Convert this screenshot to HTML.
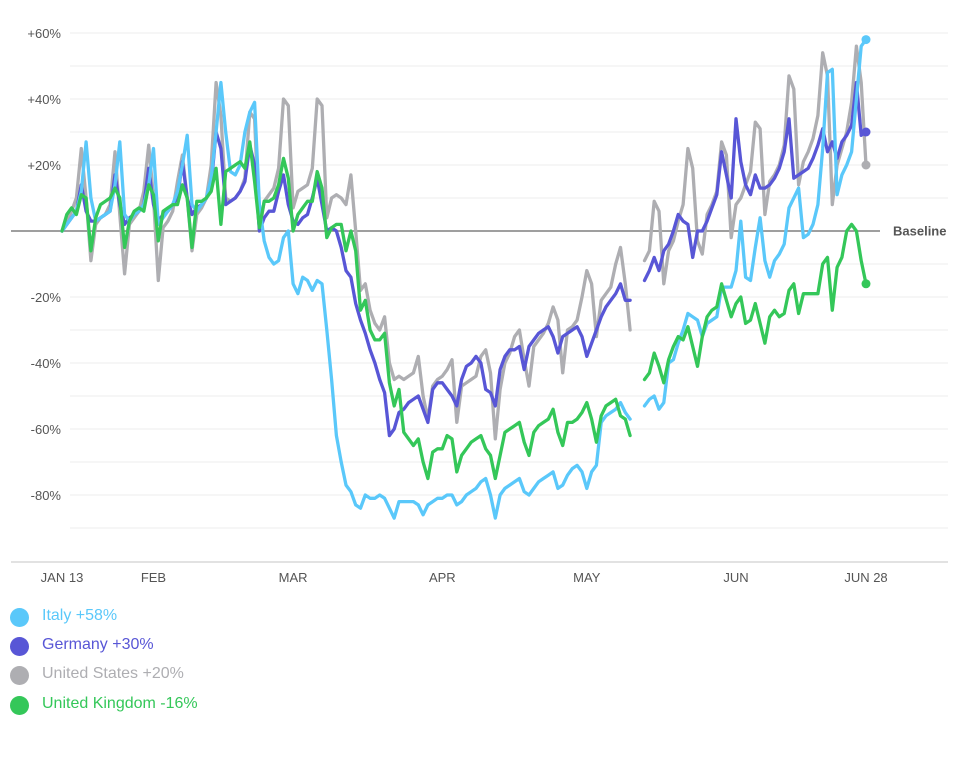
<!DOCTYPE html>
<html><head><meta charset="utf-8"><style>
body{margin:0;background:#fff;width:979px;height:759px;overflow:hidden;font-family:"Liberation Sans",sans-serif}
svg{display:block}
.legend{position:absolute;left:0;top:0}
.li{position:absolute;left:10px;font-size:16px;white-space:nowrap}
.li .dot{position:absolute;left:0;top:1px;width:19px;height:19px;border-radius:50%}
.li span.t{position:absolute;left:32px;top:0}
</style></head><body>
<svg id="chart" width="979" height="600" viewBox="0 0 979 600" style="position:absolute;left:0;top:0"></svg>
<div>
<div class="li" style="top:607px;width:200px;height:22px"><div class="dot" style="background:#5AC8FA"></div><span class="t" style="color:#5AC8FA">Italy +58%</span></div>
<div class="li" style="top:636px;width:200px;height:22px"><div class="dot" style="background:#5856D6"></div><span class="t" style="color:#5856D6">Germany +30%</span></div>
<div class="li" style="top:665px;width:220px;height:22px"><div class="dot" style="background:#AEAEB2"></div><span class="t" style="color:#AEAEB2">United States +20%</span></div>
<div class="li" style="top:695px;width:240px;height:22px"><div class="dot" style="background:#34C759"></div><span class="t" style="color:#34C759">United Kingdom -16%</span></div>
</div>
<script>
const yTicks=[60,40,20,-20,-40,-60,-80];
const xTickLabels=["JAN 13","FEB","MAR","APR","MAY","JUN","JUN 28"];
const xTickDays=[0,19,48,79,109,140,167];
const seriesNames=["Italy","Germany","United States","United Kingdom"];
const seriesColors=["#5AC8FA","#5856D6","#AEAEB2","#34C759"];
const italy=[0,2,4,6,12,27,10,3,4,5,6,14,27,5,3,5,6,8,14,25,2,4,6,8,12,20,29,8,6,8,10,16,30,45,30,18,17,20,30,36,39,8,-3,-8,-10,-9,-2,0,-16,-19,-14,-15,-18,-15,-16,-30,-45,-62,-70,-77,-79,-83,-84,-80,-81,-81,-80,-81,-84,-87,-82,-82,-82,-82,-83,-86,-83,-82,-81,-81,-80,-80,-83,-82,-80,-79,-78,-76,-75,-80,-87,-80,-78,-77,-76,-75,-79,-80,-78,-76,-75,-74,-73,-78,-77,-74,-72,-71,-73,-78,-73,-71,-58,-56,-55,-54,-52,-55,-57,null,null,-53,-51,-50,-54,-52,-40,-39,-34,-30,-25,-26,-27,-32,-28,-27,-26,-17,-17,-17,-12,3,-14,-15,-5,4,-9,-14,-9,-7,-4,7,10,13,-2,-1,2,8,25,48,49,11,17,20,24,40,56,58];
const germany=[0,2,4,6,14,6,3,3,4,5,6,17,8,2,4,5,6,8,19,8,3,5,6,8,10,21,10,5,7,8,10,14,30,25,8,9,10,12,15,26,20,0,4,6,6,12,17,8,3,2,4,5,10,16,8,0,1,0,-5,-12,-14,-22,-27,-31,-36,-40,-45,-49,-62,-60,-55,-54,-52,-51,-50,-54,-58,-48,-46,-46,-48,-50,-53,-45,-41,-40,-38,-40,-48,-49,-53,-42,-38,-36,-36,-35,-42,-35,-33,-31,-30,-29,-32,-37,-32,-31,-30,-29,-32,-38,-34,-30,-26,-23,-21,-19,-16,-21,-21,null,null,-15,-12,-8,-12,-6,-4,0,5,3,2,-8,0,0,3,7,11,24,17,10,34,21,14,11,17,13,13,14,16,19,24,34,16,17,18,19,22,26,31,24,27,22,27,29,32,45,29,30];
const unitedStates=[0,3,6,10,25,10,-9,2,4,5,8,24,5,-13,2,4,6,12,26,10,-15,1,3,6,15,23,10,-6,5,7,10,20,45,35,10,9,10,12,16,36,34,0,9,11,13,19,40,38,7,12,13,14,19,40,38,4,10,11,10,8,17,0,-18,-16,-24,-28,-30,-26,-40,-45,-44,-45,-44,-43,-38,-50,-57,-47,-45,-44,-42,-39,-58,-47,-46,-45,-44,-38,-36,-43,-63,-48,-40,-37,-32,-30,-39,-47,-35,-33,-31,-28,-23,-27,-43,-30,-29,-27,-20,-12,-16,-32,-21,-19,-17,-10,-5,-16,-30,null,null,-9,-6,9,6,-16,-6,-3,3,8,25,19,-3,-7,5,8,12,27,23,-2,8,10,14,18,33,31,5,15,17,20,26,47,43,14,21,24,28,35,54,47,8,20,25,30,39,56,45,20];
const unitedKingdom=[0,5,7,5,11,10,-6,4,8,9,10,13,10,-5,3,6,7,6,14,11,-3,6,7,8,8,14,10,-5,9,9,10,12,19,2,18,19,20,21,19,27,15,1,9,9,10,14,22,16,0,5,7,9,9,18,13,-2,1,2,2,-6,0,-6,-24,-21,-30,-33,-33,-31,-46,-53,-48,-61,-63,-65,-63,-70,-75,-67,-66,-66,-62,-63,-73,-68,-66,-64,-63,-62,-66,-68,-75,-68,-61,-60,-59,-58,-64,-68,-61,-59,-58,-57,-54,-61,-65,-58,-58,-57,-55,-52,-57,-64,-56,-53,-52,-51,-56,-57,-62,null,null,-45,-43,-37,-41,-46,-39,-35,-32,-33,-29,-35,-41,-32,-26,-24,-23,-16,-21,-26,-22,-20,-28,-27,-22,-28,-34,-26,-24,-26,-25,-18,-16,-25,-19,-19,-19,-19,-10,-8,-24,-11,-8,0,2,0,-9,-16];
const allSeries=[italy,germany,unitedStates,unitedKingdom];

const NS="http://www.w3.org/2000/svg";
const svg=document.getElementById('chart');
const X0=62,X1=866,NDAYS=167;
function xScale(d){return X0+(X1-X0)*d/NDAYS;}
function yScale(v){return 231-v*3.3;}
function mk(tag,attrs){const e=document.createElementNS(NS,tag);for(const k in attrs)e.setAttribute(k,attrs[k]);svg.appendChild(e);return e;}
// gridlines every 10%
for(let v=60;v>=-90;v-=10){
  if(v===0)continue;
  const g=mk('line',{x1:70,x2:948,y1:yScale(v),y2:yScale(v),stroke:'#ececec','stroke-width':1});
  
  
}
const ax=mk('line',{x1:11,x2:948,y1:562,y2:562,stroke:'#e2e2e2','stroke-width':2});


yTicks.forEach(v=>{
  const t=mk('text',{x:61,y:yScale(v)+5,'text-anchor':'end','font-size':13,fill:'#555'});
  t.textContent=(v>0?'+':'')+v+'%';
  
  
});
xTickLabels.forEach((l,i)=>{
  const t=mk('text',{x:xScale(xTickDays[i]),y:582,'text-anchor':'middle','font-size':13,fill:'#555'});
  t.textContent=l;
  
  
});
const bl=mk('line',{x1:11,x2:880,y1:yScale(0),y2:yScale(0),stroke:'#666','stroke-width':1.2});


const blt=mk('text',{x:893,y:yScale(0)+4.5,'font-size':13,'font-weight':'bold',fill:'#555'});
blt.textContent='Baseline';


const order=[2,1,0,3];
order.forEach(si=>{
  const data=allSeries[si];
  let d='',pen=false;
  data.forEach((v,i)=>{
    if(v===null){pen=false;return;}
    d+=(pen?'L':'M')+xScale(i).toFixed(1)+' '+yScale(v).toFixed(1);
    pen=true;
  });
  const p=mk('path',{d:d,fill:'none',stroke:seriesColors[si],'stroke-width':3.3,'stroke-linejoin':'round','stroke-linecap':'round'});
  
  
  const last=data.length-1;
  const c=mk('circle',{cx:xScale(last),cy:yScale(data[last]),r:4.5,fill:seriesColors[si]});
  
  
});
</script>
</body></html>
